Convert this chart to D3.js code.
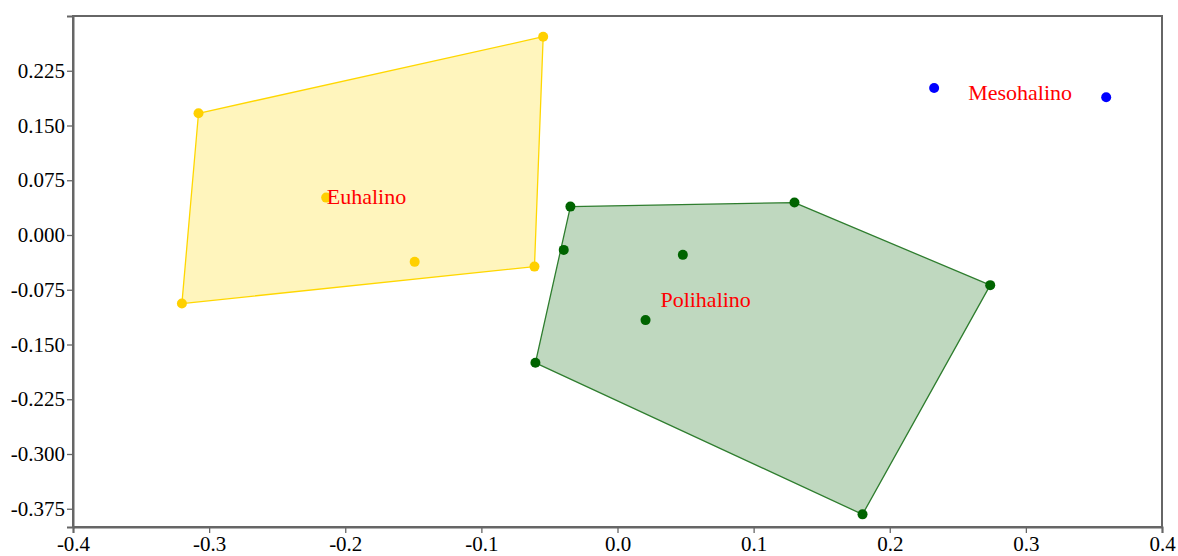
<!DOCTYPE html>
<html>
<head>
<meta charset="utf-8">
<script src="https://cdn.jsdelivr.net/npm/d3@7"></script>
<style>
  html, body { margin: 0; padding: 0; background: #fff; }
  svg { display: block; }
  .grp-label { font-family: "Liberation Serif", "Times New Roman", serif; font-size: 22px; fill: #ff0000; }
</style>
</head>
<body>
<svg id="chart" width="1178" height="556"></svg>
<script>
// Site scores on the two ordination axes, grouped by salinity class
const groups = ["Euhalino", "Polihalino", "Mesohalino"];

const euhalinoX = [-0.0546, -0.3078, -0.2140, -0.1490, -0.0610, -0.3200];
const euhalinoY = [0.2716, 0.1667, 0.0512, -0.0368, -0.0433, -0.0939];

const polihalinoX = [-0.0346, 0.1300, 0.2738, 0.1800, -0.0603, -0.0395, 0.0480, 0.0206];
const polihalinoY = [0.0389, 0.0444, -0.0687, -0.3827, -0.1751, -0.0204, -0.0272, -0.1166];

const mesohalinoX = [0.2326, 0.3590];
const mesohalinoY = [0.2014, 0.1886];

const xTicks = [-0.4, -0.3, -0.2, -0.1, 0.0, 0.1, 0.2, 0.3, 0.4];
const yTicks = [-0.375, -0.300, -0.225, -0.150, -0.075, 0.000, 0.075, 0.150, 0.225];

const styles = {
  Euhalino:   { point: "#ffd000", stroke: "#ffd700", fill: "rgba(255,215,0,0.26)" },
  Polihalino: { point: "#006400", stroke: "#2e7d2e", fill: "rgba(0,100,0,0.25)" },
  Mesohalino: { point: "#0000ff", stroke: "#0000ff", fill: "rgba(0,0,255,0.2)" }
};

const series = [
  { name: "Euhalino", xs: euhalinoX, ys: euhalinoY },
  { name: "Polihalino", xs: polihalinoX, ys: polihalinoY },
  { name: "Mesohalino", xs: mesohalinoX, ys: mesohalinoY }
].map(s => ({ name: s.name, pts: s.xs.map((x, i) => [x, s.ys[i]]) }));

const svg = d3.select("#chart");
const margin = { left: 73, right: 16, top: 16, bottom: 29 };
const W = 1178, H = 556;
const serif = '"Liberation Serif", "Times New Roman", serif';

const x = d3.scaleLinear().domain([-0.4, 0.4]).range([margin.left, W - margin.right]);
const y = d3.scaleLinear().domain([-0.4, 0.3]).range([H - margin.bottom, margin.top]);

// frame
svg.append("rect")
  .attr("x", x(-0.4)).attr("y", y(0.3))
  .attr("width", x(0.4) - x(-0.4)).attr("height", y(-0.4) - y(0.3))
  .attr("fill", "none").attr("stroke", "#666").attr("stroke-width", 2);

// convex hulls
const plot = svg.append("g");
series.forEach(s => {
  const st = styles[s.name];
  if (s.pts.length >= 3) {
    const hull = d3.polygonHull(s.pts.map(p => [x(p[0]), y(p[1])]));
    plot.append("path")
      .attr("d", "M" + hull.join("L") + "Z")
      .attr("fill", st.fill)
      .attr("stroke", st.stroke)
      .attr("stroke-width", 1.3)
      .attr("stroke-linejoin", "round");
  }
});

// points
series.forEach(s => {
  plot.selectAll(null).data(s.pts).enter().append("circle")
    .attr("cx", d => x(d[0])).attr("cy", d => y(d[1]))
    .attr("r", 5).attr("fill", styles[s.name].point);
});

// group labels at the centroid of each group
series.forEach(s => {
  const cx = d3.mean(s.pts, p => p[0]);
  const cy = d3.mean(s.pts, p => p[1]);
  plot.append("text").attr("class", "grp-label")
    .attr("x", x(cx)).attr("y", y(cy))
    .attr("text-anchor", "middle").attr("dominant-baseline", "central")
    .text(s.name);
});

// axes
const xAxis = svg.append("g")
  .attr("transform", `translate(0,${y(-0.4)})`)
  .call(d3.axisBottom(x).tickValues(xTicks).tickSize(6).tickPadding(3));
const yAxis = svg.append("g")
  .attr("transform", `translate(${x(-0.4)},0)`)
  .call(d3.axisLeft(y).tickValues(yTicks).tickSize(6).tickPadding(2));
[xAxis, yAxis].forEach(a => {
  a.attr("font-family", serif).attr("font-size", 21);
  a.select(".domain").attr("stroke", "#666").attr("stroke-width", 2);
  a.selectAll(".tick line").attr("stroke", "#666").attr("stroke-width", 1.3);
  a.selectAll(".tick text")
    .style("font-family", serif).style("font-size", "21px").attr("fill", "#000");
});
xAxis.selectAll(".tick text").text(d => d3.format(".1f")(d).replace("\u2212", "-"));
yAxis.selectAll(".tick text").text(d => d3.format(".3f")(d).replace("\u2212", "-"));
</script>
</body>
</html>
